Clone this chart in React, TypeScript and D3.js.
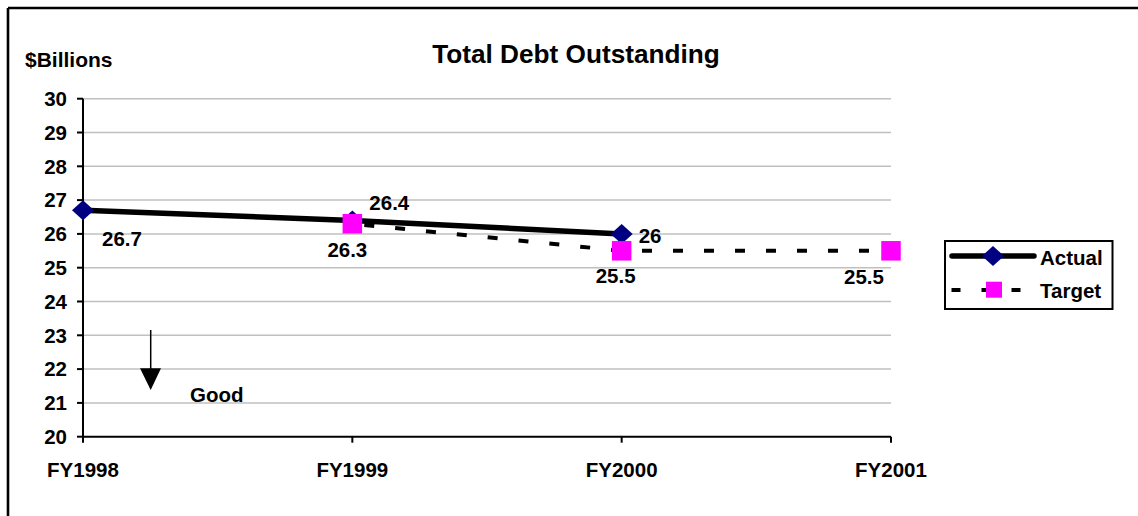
import React from "react";
import * as d3 from "d3";

const categories = ["FY1998", "FY1999", "FY2000", "FY2001"];
const actualValues: (number | null)[] = [26.7, 26.4, 26, null];
const targetValues: (number | null)[] = [null, 26.3, 25.5, 25.5];
const yTicks = [20, 21, 22, 23, 24, 25, 26, 27, 28, 29, 30];
const actualLabels = ["26.7", "26.4", "26", ""];
const targetLabels = ["", "26.3", "25.5", "25.5"];

// label placement (dx, dy relative to point, anchor)
const actualLabelPos: [number, number, string][] = [
  [19, 36, "start"],
  [17, -10, "start"],
  [17, 9, "start"],
  [0, 0, "start"],
];
const targetLabelPos: [number, number, string][] = [
  [0, 0, "middle"],
  [-5, 33, "middle"],
  [-6, 32, "middle"],
  [-27, 33, "middle"],
];

const FONT = "'Liberation Sans', Arial, sans-serif";

export default function App() {
  const W = 1138;
  const H = 516;
  const x = d3.scalePoint<string>().domain(categories).range([83, 891]);
  const y = d3.scaleLinear().domain([20, 30]).range([436.7, 98.7]);

  const actualPts = categories
    .map((c, i) => ({ c, v: actualValues[i], i }))
    .filter((d) => d.v != null) as { c: string; v: number; i: number }[];
  const targetPts = categories
    .map((c, i) => ({ c, v: targetValues[i], i }))
    .filter((d) => d.v != null) as { c: string; v: number; i: number }[];

  const line = d3
    .line<{ c: string; v: number }>()
    .x((d) => x(d.c)!)
    .y((d) => y(d.v));

  const diamond = (cx: number, cy: number) =>
    `M${cx},${cy - 10} L${cx + 11},${cy} L${cx},${cy + 10} L${cx - 11},${cy} Z`;

  const x0 = x.range()[0];
  const x1 = x.range()[1];

  return (
    <svg
      width={W}
      height={H}
      style={{ position: "absolute", left: 0, top: 0, background: "#fff" }}
      fontFamily={FONT}
      fontWeight="bold"
    >
      <rect x={0} y={0} width={W} height={H} fill="#fff" />
      {/* frame */}
      <line x1={8} y1={8} x2={W} y2={8} stroke="#000" strokeWidth={2.6} />
      <line x1={8} y1={8} x2={8} y2={H} stroke="#000" strokeWidth={2.6} />

      {/* title */}
      <text x={576} y={63} textAnchor="middle" fontSize={26.2} fill="#000">
        Total Debt Outstanding
      </text>
      <text x={25} y={66.5} fontSize={21} fill="#000">
        $Billions
      </text>

      {/* gridlines */}
      {yTicks
        .filter((t) => t !== 20)
        .map((t) => (
          <line
            key={t}
            x1={x0}
            x2={x1}
            y1={y(t)}
            y2={y(t)}
            stroke="#C0C0C0"
            strokeWidth={1.5}
          />
        ))}

      {/* y axis */}
      <line x1={x0} x2={x0} y1={y(30)} y2={y(20)} stroke="#000" strokeWidth={2} />
      {yTicks.map((t) => (
        <g key={t}>
          <line x1={x0 - 6} x2={x0} y1={y(t)} y2={y(t)} stroke="#000" strokeWidth={2} />
          <text
            x={67}
            y={y(t)}
            dy="0.36em"
            textAnchor="end"
            fontSize={20.5}
            fill="#000"
          >
            {t}
          </text>
        </g>
      ))}

      {/* x axis */}
      <line x1={x0} x2={x1} y1={y(20)} y2={y(20)} stroke="#000" strokeWidth={2} />
      {categories.map((c) => (
        <g key={c}>
          <line x1={x(c)} x2={x(c)} y1={y(20)} y2={y(20) + 6} stroke="#000" strokeWidth={2} />
          <text x={x(c)} y={476.5} textAnchor="middle" fontSize={20.5} fill="#000">
            {c}
          </text>
        </g>
      ))}

      {/* actual series */}
      <path d={line(actualPts) || ""} fill="none" stroke="#000" strokeWidth={5.5} />
      {actualPts.map((d) => (
        <path key={d.c} d={diamond(x(d.c)!, y(d.v))} fill="#000080" />
      ))}

      {/* target series */}
      <path
        d={line(targetPts) || ""}
        fill="none"
        stroke="#000"
        strokeWidth={4}
        strokeDasharray="10,21"
        strokeDashoffset={-12}
      />
      {targetPts.map((d) => (
        <rect
          key={d.c}
          x={x(d.c)! - 9.75}
          y={y(d.v) - 9.75}
          width={19.5}
          height={19.5}
          fill="#FF00FF"
        />
      ))}

      {/* data labels */}
      {actualPts.map((d) => {
        const [dx, dy, a] = actualLabelPos[d.i];
        return (
          <text
            key={"al" + d.c}
            x={x(d.c)! + dx}
            y={y(d.v) + dy}
            textAnchor={a as any}
            fontSize={20.5}
            fill="#000"
          >
            {actualLabels[d.i]}
          </text>
        );
      })}
      {targetPts.map((d) => {
        const [dx, dy, a] = targetLabelPos[d.i];
        return (
          <text
            key={"tl" + d.c}
            x={x(d.c)! + dx}
            y={y(d.v) + dy}
            textAnchor={a as any}
            fontSize={20.5}
            fill="#000"
          >
            {targetLabels[d.i]}
          </text>
        );
      })}

      {/* Good arrow */}
      <line x1={150.7} x2={150.7} y1={330} y2={370} stroke="#000" strokeWidth={1.5} />
      <path d="M140,368.3 L161,368.3 L150.7,390 Z" fill="#000" />
      <text x={190} y={401.5} fontSize={20.5} fill="#000">
        Good
      </text>

      {/* legend */}
      <rect x={945} y={241} width={167.5} height={68} fill="#fff" stroke="#000" strokeWidth={2} />
      <line x1={952} x2={1034} y1={256} y2={256} stroke="#000" strokeWidth={5.5} strokeLinecap="round" />
      <path d={diamond(993, 256)} fill="#000080" />
      <text x={1040} y={264.5} fontSize={20.5} fill="#000">
        Actual
      </text>
      <line
        x1={951.5}
        x2={1023}
        y1={290}
        y2={290}
        stroke="#000"
        strokeWidth={4}
        strokeDasharray="9,21"
      />
      <rect x={986} y={281.7} width={16} height={16} fill="#FF00FF" />
      <text x={1040} y={298} fontSize={20.5} fill="#000">
        Target
      </text>
    </svg>
  );
}
